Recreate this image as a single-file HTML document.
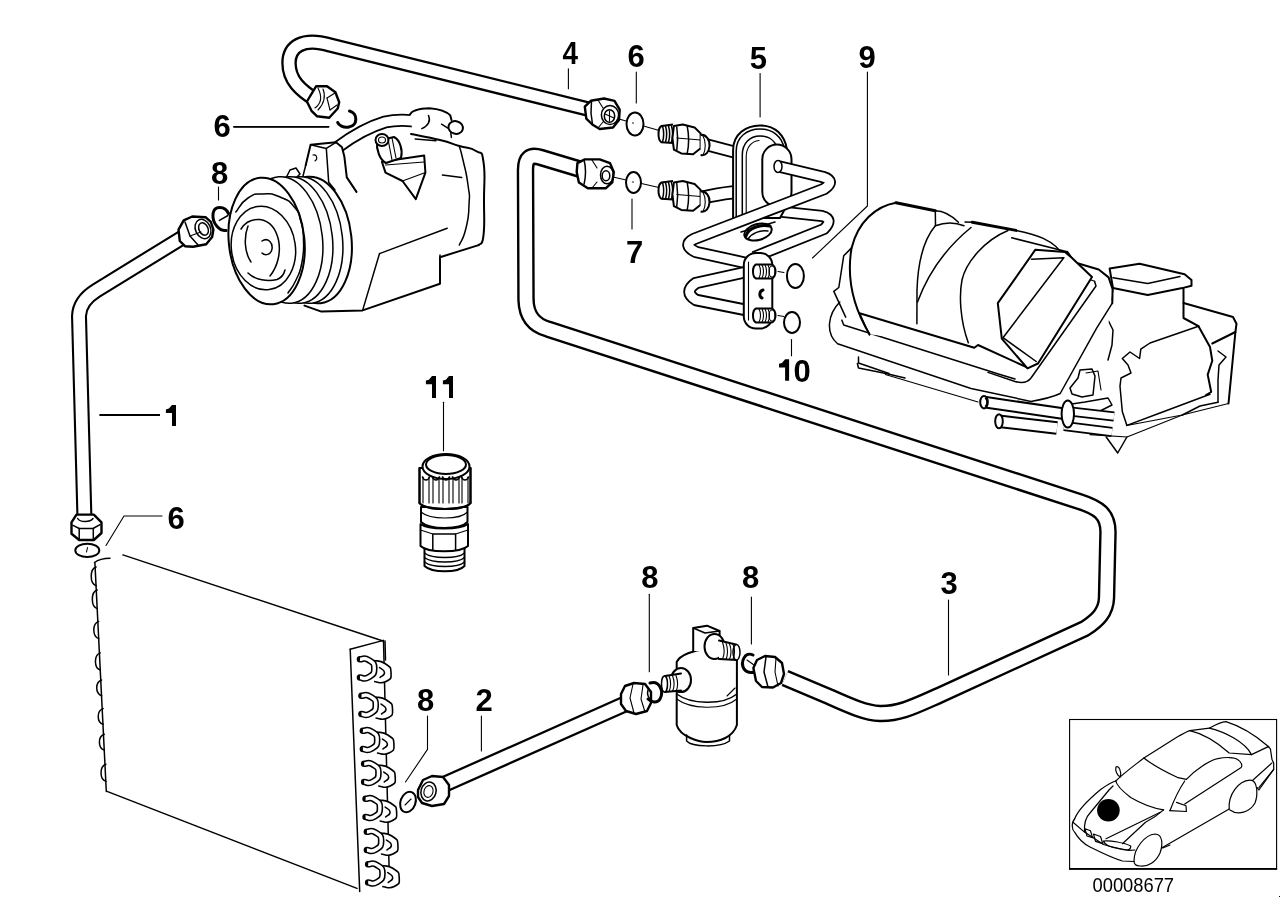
<!DOCTYPE html>
<html><head><meta charset="utf-8"><title>Parts diagram</title>
<style>
html,body{margin:0;padding:0;background:#fff;width:1288px;height:910px;overflow:hidden}
svg{display:block;will-change:transform}
.l{font-family:"Liberation Sans",sans-serif;font-weight:bold;font-size:31px;fill:#000}
.s{fill:none;stroke:#000;stroke-width:2;stroke-linejoin:round;stroke-linecap:round}
.m{fill:none;stroke:#000;stroke-width:1.5;stroke-linejoin:round;stroke-linecap:round}
.t{fill:none;stroke:#000;stroke-width:1.1;stroke-linejoin:round;stroke-linecap:round}
.k{fill:none;stroke:#000;stroke-width:3;stroke-linejoin:round;stroke-linecap:round}
.w{fill:#fff;stroke:#000;stroke-width:2;stroke-linejoin:round}
.wm{fill:#fff;stroke:#000;stroke-width:1.5;stroke-linejoin:round}
.wk{fill:#fff;stroke:#000;stroke-width:3;stroke-linejoin:round}
.wn{fill:#fff;stroke:#000;stroke-width:2.4;stroke-linejoin:round}
.f{fill:#fff;stroke:none}
</style></head>
<body>
<svg width="1288" height="910" viewBox="0 0 1288 910">
<path d="M596,174 L541,157.5 C530,154 525.5,158 525.5,170 L526,300 C526.5,317 535,325.5 548,329.1 L1080,501.7 C1098,507.5 1108,514 1108,532 L1106.5,598 C1106,612 1098,620 1085,628.5 L940,695 C915,706 900,714 880,713.5 C866,713 850,706 830,697 L785,678" fill="none" stroke="#000" stroke-width="17.5" stroke-linejoin="round"/>
<path d="M596,174 L541,157.5 C530,154 525.5,158 525.5,170 L526,300 C526.5,317 535,325.5 548,329.1 L1080,501.7 C1098,507.5 1108,514 1108,532 L1106.5,598 C1106,612 1098,620 1085,628.5 L940,695 C915,706 900,714 880,713.5 C866,713 850,706 830,697 L785,678" fill="none" stroke="#fff" stroke-width="12.7" stroke-linejoin="round"/>
<path d="M600,112 L330,45 C302,37 289,47 289,63 C289,80 300,90 316,100" fill="none" stroke="#000" stroke-width="15.5" stroke-linejoin="round"/>
<path d="M600,112 L330,45 C302,37 289,47 289,63 C289,80 300,90 316,100" fill="none" stroke="#fff" stroke-width="10.9" stroke-linejoin="round"/>
<path d="M198,228 L96,290.7 Q79.5,301 79,316 L84.5,520" fill="none" stroke="#000" stroke-width="16" stroke-linejoin="round"/>
<path d="M198,228 L96,290.7 Q79.5,301 79,316 L84.5,520" fill="none" stroke="#fff" stroke-width="11.8" stroke-linejoin="round"/>
<path d="M436,788 L634,700" fill="none" stroke="#000" stroke-width="17" stroke-linejoin="round"/>
<path d="M436,788 L634,700" fill="none" stroke="#fff" stroke-width="12.4" stroke-linejoin="round"/>
<path class="f" d="M95,562 L106.3,791.4 L357,888.4 L350.2,649.3 L383,641 L122.9,554.9 Z" />
<path class="m" d="M122.9,554.9 L383,641" />
<path class="m" d="M94.9,562.9 L106.3,791.4" />
<path class="m" d="M107,791.4 L357,888.4" />
<path class="m" d="M94.5,562.5 Q100,558.5 110,558.3" />
<path class="m" d="M350.2,649.3 L359.7,891.4" />
<path class="m" d="M350.2,649.3 L383.5,640.4" />
<path class="m" d="M383.5,640.4 L389.5,884" />
<path class="m" d="M96.1,567 C89.6,569 89.6,583.7 96.1,585.7" />
<path class="m" d="M97.2,590 C90.7,592 90.7,606.6 97.2,608.6" />
<path class="m" d="M98.7,621.4 C92.2,623.4 92.2,636.6 98.7,638.6" />
<path class="m" d="M100.3,652.9 C93.8,654.9 93.8,668 100.3,670" />
<path class="m" d="M101.6,680 C95.1,682 95.1,693.7 101.6,695.7" />
<path class="m" d="M103.1,708.6 C96.6,710.6 96.6,722.3 103.1,724.3" />
<path class="m" d="M104.3,734.3 C97.8,736.3 97.8,748 104.3,750" />
<path class="m" d="M105.9,764.3 C99.4,766.3 99.4,779.4 105.9,781.4" />
<path d="M374,660.5 C377.7,661.5 379.4,659.5 385,663.5 C390.7,667.5 390.7,666.5 391,672.5 C391.4,678.5 391.7,678.5 386,681.5 C380.4,684.5 378,681.5 374,681.5" fill="#fff" stroke="#000" stroke-width="1.6"/>
<path class="m" d="M379.5,667.5 C381.2,669.2 384.4,669.2 384.5,672.5 C384.7,675.8 381.5,675.8 380,677.5" />
<path d="M360,659.2 C362.9,659.4 363.8,656.8 368.5,659.9 C373.3,663 374.3,662.7 374.3,668.5 C374.3,674.3 373.3,674.3 368.5,677.3 C363.8,680.3 362.9,677.4 360,677.5" fill="none" stroke="#000" stroke-width="6.6" stroke-linecap="round"/>
<path d="M360,659.2 C362.9,659.4 363.8,656.8 368.5,659.9 C373.3,663 374.3,662.7 374.3,668.5 C374.3,674.3 373.3,674.3 368.5,677.3 C363.8,680.3 362.9,677.4 360,677.5" fill="none" stroke="#fff" stroke-width="3.4" stroke-linecap="butt"/>
<path d="M375.5,697 C379.2,698 380.8,696 386.5,700 C392.2,704 392.2,703 392.5,709 C392.8,715 393.2,715 387.5,718 C381.8,721 379.5,718 375.5,718" fill="#fff" stroke="#000" stroke-width="1.6"/>
<path class="m" d="M381,704 C382.7,705.7 385.8,705.7 386,709 C386.2,712.3 383,712.3 381.5,714" />
<path d="M361.5,695.7 C364.3,695.9 365.2,693.3 370,696.4 C374.8,699.5 375.8,699.2 375.8,705 C375.8,710.8 374.8,710.8 370,713.8 C365.2,716.8 364.3,713.9 361.5,714" fill="none" stroke="#000" stroke-width="6.6" stroke-linecap="round"/>
<path d="M361.5,695.7 C364.3,695.9 365.2,693.3 370,696.4 C374.8,699.5 375.8,699.2 375.8,705 C375.8,710.8 374.8,710.8 370,713.8 C365.2,716.8 364.3,713.9 361.5,714" fill="none" stroke="#fff" stroke-width="3.4" stroke-linecap="butt"/>
<path d="M376.9,732 C380.6,733 382.2,731 387.9,735 C393.6,739 393.6,738 393.9,744 C394.2,750 394.6,750 388.9,753 C383.2,756 380.9,753 376.9,753" fill="#fff" stroke="#000" stroke-width="1.6"/>
<path class="m" d="M382.4,739 C384.1,740.7 387.2,740.7 387.4,744 C387.6,747.3 384.4,747.3 382.9,749" />
<path d="M362.9,730.7 C365.7,730.9 366.6,728.3 371.4,731.4 C376.2,734.5 377.2,734.2 377.2,740 C377.2,745.8 376.2,745.8 371.4,748.8 C366.6,751.8 365.7,748.9 362.9,749" fill="none" stroke="#000" stroke-width="6.6" stroke-linecap="round"/>
<path d="M362.9,730.7 C365.7,730.9 366.6,728.3 371.4,731.4 C376.2,734.5 377.2,734.2 377.2,740 C377.2,745.8 376.2,745.8 371.4,748.8 C366.6,751.8 365.7,748.9 362.9,749" fill="none" stroke="#fff" stroke-width="3.4" stroke-linecap="butt"/>
<path d="M378.2,765 C381.9,766 383.6,764 389.2,768 C394.9,772 394.9,771 395.2,777 C395.6,783 395.9,783 390.2,786 C384.6,789 382.2,786 378.2,786" fill="#fff" stroke="#000" stroke-width="1.6"/>
<path class="m" d="M383.7,772 C385.4,773.7 388.6,773.7 388.7,777 C388.9,780.3 385.7,780.3 384.2,782" />
<path d="M364.2,763.7 C367.1,763.9 368,761.3 372.7,764.4 C377.5,767.5 378.5,767.2 378.5,773 C378.5,778.8 377.5,778.8 372.7,781.8 C368,784.8 367.1,781.9 364.2,782" fill="none" stroke="#000" stroke-width="6.6" stroke-linecap="round"/>
<path d="M364.2,763.7 C367.1,763.9 368,761.3 372.7,764.4 C377.5,767.5 378.5,767.2 378.5,773 C378.5,778.8 377.5,778.8 372.7,781.8 C368,784.8 367.1,781.9 364.2,782" fill="none" stroke="#fff" stroke-width="3.4" stroke-linecap="butt"/>
<path d="M379.6,800 C383.3,801 385,799 390.6,803 C396.3,807 396.3,806 396.6,812 C397,818 397.3,818 391.6,821 C386,824 383.6,821 379.6,821" fill="#fff" stroke="#000" stroke-width="1.6"/>
<path class="m" d="M385.1,807 C386.8,808.7 390,808.7 390.1,812 C390.3,815.3 387.1,815.3 385.6,817" />
<path d="M365.6,798.7 C368.5,798.9 369.4,796.3 374.1,799.4 C378.9,802.5 379.9,802.2 379.9,808 C379.9,813.8 378.9,813.8 374.1,816.8 C369.4,819.8 368.5,816.9 365.6,817" fill="none" stroke="#000" stroke-width="6.6" stroke-linecap="round"/>
<path d="M365.6,798.7 C368.5,798.9 369.4,796.3 374.1,799.4 C378.9,802.5 379.9,802.2 379.9,808 C379.9,813.8 378.9,813.8 374.1,816.8 C369.4,819.8 368.5,816.9 365.6,817" fill="none" stroke="#fff" stroke-width="3.4" stroke-linecap="butt"/>
<path d="M380.9,833 C384.6,834 386.3,832 391.9,836 C397.6,840 397.6,839 397.9,845 C398.3,851 398.6,851 392.9,854 C387.3,857 384.9,854 380.9,854" fill="#fff" stroke="#000" stroke-width="1.6"/>
<path class="m" d="M386.4,840 C388.1,841.7 391.3,841.7 391.4,845 C391.6,848.3 388.4,848.3 386.9,850" />
<path d="M366.9,831.7 C369.8,831.9 370.7,829.3 375.4,832.4 C380.2,835.5 381.2,835.2 381.2,841 C381.2,846.8 380.2,846.8 375.4,849.8 C370.7,852.8 369.8,849.9 366.9,850" fill="none" stroke="#000" stroke-width="6.6" stroke-linecap="round"/>
<path d="M366.9,831.7 C369.8,831.9 370.7,829.3 375.4,832.4 C380.2,835.5 381.2,835.2 381.2,841 C381.2,846.8 380.2,846.8 375.4,849.8 C370.7,852.8 369.8,849.9 366.9,850" fill="none" stroke="#fff" stroke-width="3.4" stroke-linecap="butt"/>
<path d="M382.2,865.5 C385.9,866.5 387.6,864.5 393.2,868.5 C398.9,872.5 398.9,871.5 399.2,877.5 C399.6,883.5 399.9,883.5 394.2,886.5 C388.6,889.5 386.2,886.5 382.2,886.5" fill="#fff" stroke="#000" stroke-width="1.6"/>
<path class="m" d="M387.7,872.5 C389.4,874.2 392.6,874.2 392.7,877.5 C392.9,880.8 389.7,880.8 388.2,882.5" />
<path d="M368.2,864.2 C371.1,864.4 372,861.8 376.7,864.9 C381.5,868 382.5,867.7 382.5,873.5 C382.5,879.3 381.5,879.3 376.7,882.3 C372,885.3 371.1,882.4 368.2,882.5" fill="none" stroke="#000" stroke-width="6.6" stroke-linecap="round"/>
<path d="M368.2,864.2 C371.1,864.4 372,861.8 376.7,864.9 C381.5,868 382.5,867.7 382.5,873.5 C382.5,879.3 381.5,879.3 376.7,882.3 C372,885.3 371.1,882.4 368.2,882.5" fill="none" stroke="#fff" stroke-width="3.4" stroke-linecap="butt"/>
<path class="m" d="M385,641 L385.5,660" />
<ellipse class="s" cx="87.3" cy="550.4" rx="12" ry="6.6" />
<path class="t" d="M87.5,547.5 L86.5,552" />
<ellipse class="s" cx="408" cy="802" rx="7.5" ry="10.5" transform="rotate(20 408 802)" />
<path class="t" d="M405,805 L411,799" />
<path class="k" d="M228.5,213.5 C225,206 214,205 213,214 C212,224 220,231 226,230.5" />
<path class="m" d="M219.4,220.4 L228,215.5" />
<path class="k" d="M349.5,111 C358,113 358,126 349,127 C343,128 338.5,125 337.7,122.5" />
<path class="wn" d="M178.5,229.7 L183.7,220.4 L192.3,216.5 L205.5,217.2 L210.8,221.8 L213.4,229.7 L212.1,237 L206.2,244.2 L193,246.8 L185,246.2 L179.8,241 Z" />
<ellipse class="m" cx="203" cy="229" rx="7.5" ry="10" transform="rotate(-25 203 229)" />
<ellipse class="m" cx="203.5" cy="229" rx="4.5" ry="6.5" transform="rotate(-25 203.5 229)" />
<path class="m" d="M185,222 L190,236 198,245" />
<path class="t" d="M190,236 L201,232" />
<path class="wn" d="M76.5,514.6 L71.5,522.3 L71.5,533.8 L79.2,540 L93.8,540 L101.5,533 L101.5,522.3 L93.8,514.6 Z" />
<path class="m" d="M77.7,518.5 C80,522.5 90,522.5 93,518.5" />
<path class="m" d="M73,525.4 L79.2,528.5 L93,528.5 L100,524.6" />
<path class="m" d="M79.2,528.5 L79.2,539 M93.3,528.5 L93.3,539" />
<path class="wn" d="M306.9,101.5 L311.5,110.8 L316.9,116.2 L329.2,117.7 L337.7,108.5 L339.2,102.3 L335.4,92.3 L327,86.2 L316.2,86.2 Z" />
<path class="t" d="M318,88 C322,96 322,103 315,108" />
<path class="t" d="M323,89 C326,96 324,104 318,110" />
<path class="t" d="M327,98 L335,93" />
<path class="t" d="M327,98 L330,110" />
<path class="t" d="M330,110 L337,105" />
<path class="wn" d="M584.8,106.7 L590.8,100.8 L604.1,98.5 L614.5,100.8 L619.7,109.7 L619,120 L613,127.5 L599.7,129 L592.3,124.5 L586.3,118.6 Z" />
<ellipse class="m" cx="610" cy="115" rx="8.6" ry="9.4" />
<ellipse class="m" cx="609.5" cy="116" rx="5.2" ry="6.3" />
<path class="m" d="M591.5,101 L591,113 592.5,124.5" />
<path class="t" d="M598,100 L603,108" />
<path class="t" d="M598,128 L603,122" />
<path class="t" d="M609.5,111 L609.5,121" />
<path class="t" d="M605,114 L614,118" />
<path class="wn" d="M577.4,163.1 L584.8,159.4 L599.7,159.4 L610,163.1 L613.8,172 L612.3,182.4 L605.6,188.3 L587.8,188.3 L578.9,182.4 L576.7,172 Z" />
<ellipse class="m" cx="607" cy="175" rx="6.5" ry="8.8" />
<ellipse class="m" cx="606" cy="175.7" rx="3.8" ry="5" />
<path class="m" d="M584.1,160 C586,168 586,176 584.1,184" />
<path class="t" d="M592,160 L597,168" />
<path class="t" d="M592,188 L597,182" />
<path class="wn" d="M418,790 L423,780 L432,776 L443,777 L449,785 L449,796 L444,804 L432,806 L422,803 L418,797 Z" />
<ellipse class="m" cx="428.5" cy="791.5" rx="7.5" ry="9.5" transform="rotate(15 428.5 791.5)" />
<ellipse class="t" cx="428.5" cy="791.5" rx="4.5" ry="6" transform="rotate(15 428.5 791.5)" />
<path class="wn" d="M621,694 L625,686 L634,683 L645,684 L651,692 L651,703 L647,711 L636,714 L626,711 L621,704 Z" />
<path class="t" d="M633,684 L630,698 634,713" />
<path class="t" d="M643,685 L641,699 645,712" />
<path class="k" d="M650,683 C660,680 664,692 660,699 C657,704 651,702 648,699" />
<path class="m" d="M648,690 C647,694 648,697 650,699" />
<path class="k" d="M753,655 C745,651 740,662 744,669 C747,673 751,673 755,672" />
<path class="t" d="M747,660 L754,665" />
<path class="wn" d="M753.4,668 L757,660 L765,656 L775,657 L782,663 L784,674 L781,683 L773,687.5 L762,687 L756,681 Z" />
<path class="m" d="M766,657 L764,672 768,687" />
<path class="t" d="M776,658 L775,672 778,686" />
<path class="w" d="M676.7,662 L676.7,725 C680,737 700,742 706.5,742 C720,742 733,737 736.9,725 L736.9,659 C730,652 716,649 706,649 C694,650 680,655 676.7,662 Z" />
<path class="m" d="M686.6,735 L686.6,741 C692,747 720,748 729.5,741 L729.5,735" />
<path class="m" d="M676.7,694 C690,704 722,706 736.9,694" />
<path class="t" d="M676.7,699 C690,709 722,711 736.9,699" />
<path class="t" d="M735,688 L727,696" />
<path class="w" d="M693.2,651 L693.2,628 L707,625.7 L719.6,631 L719.6,651" />
<path class="m" d="M693.2,628 L705,633 719.6,631" />
<ellipse class="w" cx="714.5" cy="646.5" rx="10" ry="12.5" />
<path class="f" d="M719,640.5 L736,644.5 L736.5,660 L719,659 Z" />
<path class="s" d="M719,640.5 L736,644.5 M719,659 L736.5,660" />
<ellipse class="wm" cx="736.5" cy="652.3" rx="3.5" ry="7.8" />
<path class="t" d="M722.5,642.305 C724.5,648 724.5,655 722.5,659.2" />
<path class="t" d="M726,643.11 C728,648 728,655 726,659.2" />
<path class="t" d="M729.5,643.915 C731.5,648 731.5,655 729.5,659.2" />
<path class="t" d="M733,644.72 C735,648 735,655 733,659.2" />
<ellipse class="w" cx="681" cy="680" rx="10" ry="12" />
<path class="f" d="M681,673.5 L665,676 L665,692 L681,690.5 Z" />
<path class="s" d="M681,673.5 L665,676 M665,692 L681,690.5" />
<ellipse class="wm" cx="664.5" cy="684" rx="3" ry="8" />
<path class="t" d="M669,675.5 C671,681 671,687 669,691.5" />
<path class="t" d="M672.5,675.5 C674.5,681 674.5,687 672.5,691.5" />
<path class="t" d="M676,675.5 C678,681 678,687 676,691.5" />
<path class="w" d="M424.5,548 L424.5,566 C432,573 458,573 464.5,566 L464.5,548 Z" />
<path class="m" d="M424.5,553 C432,559 458,559 464.5,553" />
<path class="m" d="M424.5,557.5 C432,563.5 458,563.5 464.5,557.5" />
<path class="m" d="M424.5,562 C432,568 458,568 464.5,562" />
<path class="w" d="M420.5,524 L420.5,546 C428,553 460,553 468,546 L468,524 C460,530 428,530 420.5,524 Z" />
<path class="m" d="M432.8,534 L432.8,550 M455.6,534 L455.6,550 M432.8,534 L455.6,534" />
<path class="t" d="M420.5,530 L432.8,534 M468,530 L455.6,534" />
<path class="w" d="M421,507 L421,522 C430,530 460,530 467.5,522 L467.5,507 Z" />
<path class="t" d="M421,512 C430,520 460,520 467.5,512" />
<path class="w" d="M419.5,468 L419.5,503 C425,511 465,511 470.5,503 L470.5,468 Z" />
<ellipse class="w" cx="446" cy="466.5" rx="23.5" ry="12.5" />
<ellipse class="s" cx="446" cy="464.5" rx="20" ry="9.5" />
<path class="t" d="M423,477 L423,503 M429,477 L429,503" />
<path class="m" d="M422.5,477 C424,481 428,481 429.5,477" />
<path class="t" d="M433,477 L433,503 M439,477 L439,503" />
<path class="m" d="M432.5,477 C434,481 438,481 439.5,477" />
<path class="t" d="M443,477 L443,503 M449,477 L449,503" />
<path class="m" d="M442.5,477 C444,481 448,481 449.5,477" />
<path class="t" d="M453,477 L453,503 M459,477 L459,503" />
<path class="m" d="M452.5,477 C454,481 458,481 459.5,477" />
<path class="t" d="M462,477 L462,503 M468,477 L468,503" />
<path class="m" d="M461.5,477 C463,481 467,481 468.5,477" />
<path class="s" d="M419.5,503 C425,511 465,511 470.5,503" />
<path class="s" d="M419.5,468 L419.5,503 M470.5,468 L470.5,503" />
<path class="f" d="M305.7,165.3 L310.6,144.7 L336,142.3 L342,147.2 L375,128 L411,114 L450,118 L465,128 L459.3,146 L478.6,152 L483.5,160.5 L483.5,235.4 L478.6,245.1 L440,257.2 L440,283.8 L362.6,310.4 L321.4,311.6 L304.5,305.6 L280,250 Z" />
<path class="s" d="M411,134 C418.7,135.6 427.1,136.8 440,140 C452.9,143.2 449.7,143.1 459.3,146 C468.9,148.9 469.5,146.7 476,151 C482.5,155.3 481.4,148.9 483.5,162 C485.6,175.1 484,180.4 484,200 C484,219.6 484.9,223.4 483.5,235.4 C482.1,247.4 479.9,242.5 478.6,245.1" />
<path class="s" d="M478.6,245.1 L440,257.2 440,283.8 362.6,310.4 321.4,311.6 304.5,305.6" />
<path class="m" d="M459.3,146 C460.5,150.7 460.1,147 463,160 C465.9,173 466,170 468,185 C470,200 469.7,190.7 469,205 C468.3,219.3 469.2,214.6 466,228 C462.8,241.4 461.5,239.4 459.3,245.1" />
<path class="m" d="M442.4,175 L461.7,177.4" />
<path class="m" d="M379.5,253.6 L447.2,228.2" />
<path class="m" d="M379.5,253.6 L362.6,310.4" />
<path class="m" d="M440,257.2 L440,255" />
<path d="M338,147 C350,138 365,128 385,122 C398,119 410,120 422,122" fill="none" stroke="#000" stroke-width="13" stroke-linejoin="round"/>
<path d="M338,147 C350,138 365,128 385,122 C398,119 410,120 422,122" fill="none" stroke="#fff" stroke-width="9.4" stroke-linejoin="round"/>
<path class="f" d="M410,114.5 C412,110 418,108.5 429.5,108.2 C440,109 447,112 450.3,115.4 L452,121 L450,126 L451.4,137.4 L440,136 L425,131 L412,128 Z" />
<path class="s" d="M410,114.5 C412,110 418,108.5 429.5,108.2 C440,109 447,112 450.3,115.4 L451.5,120" />
<path class="m" d="M441.5,124.2 L450.3,129.7 L451.4,137.4" />
<path class="m" d="M421.8,128.6 C428,126 431,121 428.5,115.5" />
<path class="m" d="M415.2,139 L436,140.7" />
<ellipse class="w" cx="455.7" cy="127.5" rx="7.3" ry="6.3" transform="rotate(15 455.7 127.5)" />
<path class="w" d="M381.9,161.7 L424.2,155.6 L425.4,172.6 L415.8,199.2 L402.5,181 L385.5,172.6 Z" />
<path class="t" d="M385.5,165 L424,162" />
<path class="t" d="M402.5,181 L425.4,172.6" />
<path class="w" d="M377,141 L394,137 C400,140 403,150 401,158 L386,163 C380,160 376,150 377,141 Z" />
<ellipse class="w" cx="382" cy="140" rx="6.5" ry="6" />
<ellipse class="t" cx="382" cy="140" rx="3.5" ry="3" />
<path class="t" d="M388,139 L392,160" />
<path class="t" d="M392,138 L396,158" />
<path class="f" d="M305.7,165.3 L310.6,144.7 L336,142.3 L342,147.2 L344.4,156.8 L346.8,177.4 L356.5,191.9 L330,235 L300,230 Z" />
<path class="s" d="M305.7,165.3 L310.6,144.7 336,142.3 342,147.2 344.4,156.8 346.8,177.4 356.5,191.9" />
<path class="m" d="M310.6,144.7 L326.3,148.4 336,142.3" />
<path class="m" d="M326.3,148.4 L328.7,182.2 335,190" />
<path class="t" d="M313,155 C317,154 318,159 315,161" />
<path class="m" d="M305.7,165.3 L302,180" />
<path class="wm" d="M300,174 L296,168 L290,170 L286,178 L292,182 Z" />
<ellipse class="w" cx="314" cy="240" rx="37.5" ry="63.5" transform="rotate(-6 314 240)" />
<ellipse class="wm" cx="305" cy="240" rx="37.5" ry="63.5" transform="rotate(-6 305 240)" />
<ellipse class="wm" cx="295" cy="240" rx="37.5" ry="63.5" transform="rotate(-6 295 240)" />
<ellipse class="wm" cx="285" cy="240" rx="37.5" ry="63.5" transform="rotate(-6 285 240)" />
<ellipse class="w" cx="266.6" cy="241" rx="37.8" ry="63.5" transform="rotate(-6 266.6 241)" />
<path class="m" d="M235.8,212 C239.5,207.8 239.7,203.4 248,198 C256.3,192.6 253.9,194.2 263.5,193.9 C273.1,193.6 270.8,193.1 280,197 C289.2,200.9 288,199.5 294.3,207 C300.6,214.5 298.2,212.1 301,222 C303.8,231.9 303.2,228 303.5,240 C303.8,252 304.2,250 302,262 C299.8,274 300.2,270.7 296,280 C291.8,289.3 290.4,289.1 288,293" />
<ellipse class="m" cx="263.4" cy="248" rx="32" ry="42" transform="rotate(-8 263.4 248)" />
<path class="m" d="M241,229 C246,221 253,219 260,219.5 C270,221 276,229 278.5,240 C281,252 278,266 270,276" />
<path class="m" d="M248,226 C244,236 244,252 251,262" />
<path class="m" d="M248,273 C255,280 268,282 277,279.5 C281,278 284,274 285,270" />
<path class="m" d="M262,241 C268,237 273,243 272,249 C271,255 265,256 262,253" />
<path class="t" d="M619,119 L661,131" />
<path class="t" d="M613,177 L661,188" />
<ellipse class="w" cx="635" cy="124" rx="8.5" ry="11.5" />
<circle cx="633" cy="123" r="0.8" fill="#000"/>
<ellipse class="w" cx="633.5" cy="182.5" rx="7.5" ry="10.5" />
<circle cx="633" cy="182" r="0.8" fill="#000"/>
<path d="M700,143 L738,153" fill="none" stroke="#000" stroke-width="13" stroke-linejoin="round"/>
<path d="M700,143 L738,153" fill="none" stroke="#fff" stroke-width="9.4" stroke-linejoin="round"/>
<path d="M700,198 C712,196 720,193 738,192" fill="none" stroke="#000" stroke-width="14" stroke-linejoin="round"/>
<path d="M700,198 C712,196 720,193 738,192" fill="none" stroke="#fff" stroke-width="10.4" stroke-linejoin="round"/>
<path class="w" d="M673,124.5 L661.5,126 C657.5,128 657.5,140 661.5,142.3 L673,143" />
<path class="m" d="M662.5,126 C664.0,131 664.0,137 662.5,142.3" />
<path class="m" d="M665.5,126 C667.0,131 667.0,137 665.5,142.3" />
<path class="m" d="M668.5,126 C670.0,131 670.0,137 668.5,142.3" />
<path class="m" d="M671.5,126 C673.0,131 673.0,137 671.5,142.3" />
<path class="w" d="M673.9,126 L682.8,124.5 L694.6,127.5 L700.6,133.4 L700.6,148.2 L693.1,154.2 L681.3,153.4 L673.9,149.7 L672.4,138 Z" />
<path class="m" d="M676.8,127 C678,135 678,142 676.8,150 M687.2,126 C689,135 689,145 687.2,153.5" />
<path class="t" d="M676.8,138 L700.6,140" />
<path class="w" d="M700.6,135 C706,134 710,140 709.5,146 C709,152 706,156 700.6,155" />
<path class="t" d="M703,136 C706,141 706,150 703,155" />
<path class="w" d="M673,181.0 L661.5,182.5 C657.5,184.5 657.5,196.5 661.5,198.8 L673,199.5" />
<path class="m" d="M662.5,182.5 C664.0,187.5 664.0,193.5 662.5,198.8" />
<path class="m" d="M665.5,182.5 C667.0,187.5 667.0,193.5 665.5,198.8" />
<path class="m" d="M668.5,182.5 C670.0,187.5 670.0,193.5 668.5,198.8" />
<path class="m" d="M671.5,182.5 C673.0,187.5 673.0,193.5 671.5,198.8" />
<path class="w" d="M673.9,182.5 L682.8,181.0 L694.6,184.0 L700.6,189.9 L700.6,204.7 L693.1,210.7 L681.3,209.9 L673.9,206.2 L672.4,194.5 Z" />
<path class="m" d="M676.8,183.5 C678,191.5 678,198.5 676.8,206.5 M687.2,182.5 C689,191.5 689,201.5 687.2,210.0" />
<path class="t" d="M676.8,194.5 L700.6,196.5" />
<path class="w" d="M700.6,191.5 C706,190.5 710,196.5 709.5,202.5 C709,208.5 706,212.5 700.6,211.5" />
<path class="t" d="M703,192.5 C706,197.5 706,206.5 703,211.5" />
<path d="M775,211 L822,216 Q834,219 824,229 L754,257" fill="none" stroke="#000" stroke-width="12" stroke-linejoin="round"/>
<path d="M775,211 L822,216 Q834,219 824,229 L754,257" fill="none" stroke="#fff" stroke-width="8.4" stroke-linejoin="round"/>
<path class="w" d="M733.1,218 L733.1,150 C733.1,134 746,125.4 760,125.4 C775,125.4 785,135 787,150 L787,205 L780,218 Z" />
<path class="m" d="M736.2,217 L736.2,151 C736.2,137 747,129 760,129 C773,129 782,137 784,148" />
<path class="m" d="M742.3,217 L742.3,155 C742.3,143 750,136 760,136 C770,136 776,142 778,150" />
<path class="t" d="M746.2,217 L746.2,157 C746.2,147 752,141 759,140.5" />
<rect class="w" x="762.3" y="144.6" width="29.2" height="62" rx="14.6" ry="14.6"/>
<path d="M777,166 L823,177 Q836,181 824,189 L694,239 Q682,245 696,252 L746,263" fill="none" stroke="#000" stroke-width="12.5" stroke-linejoin="round"/>
<path d="M777,166 L823,177 Q836,181 824,189 L694,239 Q682,245 696,252 L746,263" fill="none" stroke="#fff" stroke-width="8.9" stroke-linejoin="round"/>
<ellipse class="wm" cx="778" cy="166.5" rx="4" ry="6" />
<ellipse class="w" cx="758" cy="232" rx="14" ry="8" transform="rotate(-15 758 232)" />
<path class="k" d="M746,236 C748,228 760,224 770,226" />
<path class="m" d="M748,239 C752,233 760,230 768,231" />
<path class="m" d="M741,232 L775,222" />
<path d="M746,272 L696,283 Q683,292 696,300 L746,310" fill="none" stroke="#000" stroke-width="12.5" stroke-linejoin="round"/>
<path d="M746,272 L696,283 Q683,292 696,300 L746,310" fill="none" stroke="#fff" stroke-width="8.9" stroke-linejoin="round"/>
<rect class="w" x="743.8" y="253" width="28.5" height="75.5" rx="12" ry="12"/>
<path class="t" d="M748.5,262 L748.5,320" />
<path class="w" d="M756,264.5 L771,264.5 C777,264.5 777,278.5 771,278.5 L756,278.5 C752,276.5 752,266.5 756,264.5 Z" />
<path class="t" d="M759,265.0 C761,268.5 761,274.5 759,278.0" />
<path class="t" d="M762,265.0 C764,268.5 764,274.5 762,278.0" />
<path class="t" d="M765,265.0 C767,268.5 767,274.5 765,278.0" />
<path class="t" d="M768,265.0 C770,268.5 770,274.5 768,278.0" />
<ellipse class="t" cx="772" cy="271.5" rx="3" ry="5.5" />
<path class="t" d="M778,271.5 L784,272.5" />
<path class="w" d="M756,308.5 L771,308.5 C777,308.5 777,322.5 771,322.5 L756,322.5 C752,320.5 752,310.5 756,308.5 Z" />
<path class="t" d="M759,309.0 C761,312.5 761,318.5 759,322.0" />
<path class="t" d="M762,309.0 C764,312.5 764,318.5 762,322.0" />
<path class="t" d="M765,309.0 C767,312.5 767,318.5 765,322.0" />
<path class="t" d="M768,309.0 C770,312.5 770,318.5 768,322.0" />
<ellipse class="t" cx="772" cy="315.5" rx="3" ry="5.5" />
<path class="t" d="M778,315.5 L784,316.5" />
<path class="k" d="M763,290 C759,291 759,297 762,298" />
<ellipse class="s" cx="795.4" cy="276" rx="8.5" ry="12" />
<ellipse class="s" cx="792" cy="322.5" rx="8" ry="10.5" />
<path class="f" d="M1090,434.6 L1106,437 L1117.7,453 L1127,437 L1182.3,415 L1228.5,403.5 L1235.4,332 L1236.5,323.8 L1233,317 L1183.5,303 L1183.5,289 L1191.5,285.8 L1191.5,280 L1184.6,274.2 L1139.6,263.8 L1109.6,268.5 L1100,300 L1090,330 Z" />
<path class="w" d="M1109.6,268.5 L1139.6,263.8 L1184.6,274.2 L1191.5,280 L1191.5,285.8 L1182.3,288.1 L1147.7,295 L1113,288.1 Z" />
<path class="m" d="M1113,277.7 L1147.7,283.5 1180,276.5" />
<path class="m" d="M1113,288.1 L1111,300" />
<path class="s" d="M1183.5,289 L1183.5,318 1198.5,326.2" />
<path class="s" d="M1183.5,303 L1233,317 1236.5,323.8 1235.4,332 1212.3,343.5" />
<path class="s" d="M1235.4,332 L1228.5,403.5" />
<path class="s" d="M1198.5,326.2 L1210,347 1212.3,360.8 1207.7,374.6 1211.2,392 1206,395" />
<path class="m" d="M1198.5,326.2 L1150,343 1140.8,349.2 1139.6,358.5 1130,352 1122.3,358.5 1128,365 1131,373 1121,378 1120,386.2 1122.3,411.5 1126.9,425.4" />
<path class="m" d="M1126.9,425.4 L1160,413 1210,394.2" />
<path class="m" d="M1218,351 L1226,357 1219,365 1218,380 1218,402.3" />
<path class="t" d="M1126.9,425.4 L1140,423 1182.3,415 1228.5,403.5" />
<path class="m" d="M1182.3,415 L1200,406 1218,402.3" />
<path class="m" d="M1106.2,437 L1117.7,453 1126.9,437" />
<path class="t" d="M1090,434.6 L1127,437 1182.3,415" />
<path class="f" d="M1060,393 L1095,385 L1110,365 L1113,330 L1108,320 L1094,318 L1070,340 Z" />
<path class="m" d="M1094,318 L1108,320 1113,330 1112,345 1108,360" />
<path class="wm" d="M1078,378 L1080,370 L1092,369 L1095,376 L1093,395 L1082,397 L1072,394 L1070,388 Z" />
<path class="t" d="M1086,373 L1098,371 1101,390" />
<path class="m" d="M1065,405 L1085,402 1108,398 1112,405 1100,411 1068,414" />
<path class="f" d="M839.8,302 C827,315 825,333 837.6,343.7 L971,388.5 L1031,401.4 C1045,399 1055,396 1060.2,393.5 L1107.6,330 L1113,288 L1102.4,272.2 L1073.4,259 L900,215 L860,230 Z" />
<path class="m" d="M839.8,302 C828,314 825,333 837.6,343.7 L971,388.5 L1031,401.4 C1045,399 1055,396 1060.2,393.5 L1096.5,328.3 L1112.3,303.2" />
<path class="m" d="M841.8,320.1 L843.7,325 L1000,374.5 L1015,379" />
<path class="f" d="M851.6,247.9 C870,212 880,205 896,202.7 L935.3,210.8 L958.4,222.3 L1016,230.4 L1064,256.9 L1080,270 L1050,370 L1027.6,367.6 L976.9,349.2 L869.6,334.2 C855,310 848,280 851.6,247.9 Z" />
<path class="s" d="M869.6,334.2 C855,310 846,280 851.6,247.9 C858,222 876,206 896,202.7" />
<path class="k" d="M896,202.7 L935.3,210.8" />
<path class="m" d="M935.3,210.8 L935.5,225" />
<path class="m" d="M935.5,210.8 C945,211 952,216 958.4,222.3" />
<path class="m" d="M935.3,225.8 C925,238 918,260 917,290 L916.9,323.8" />
<path class="m" d="M971,227.5 C952,243 930,268 917.5,302" />
<path class="m" d="M935.3,225.8 C945,222 955,222 964,225.8" />
<path class="k" d="M972.3,222.3 L1016,230.4" />
<path class="m" d="M968.3,342.8 C960,320 959,295 962,280 C966,262 985,240 1008,230.5" />
<path class="m" d="M965,222 L972.3,222.3" />
<path class="m" d="M1016,230.4 C1035,234 1055,240 1064,256.9" />
<path class="s" d="M859.6,313.2 L974.3,347.8 978,345 1027.6,367.6" />
<path class="m" d="M851.6,247.9 L843.7,255.8 838.8,287.5 833.8,291.4 845.7,317.1" />
<path class="m" d="M859.6,313.2 L869.4,335" />
<path class="m" d="M858.5,357 L858.5,363 889,373.5" />
<path class="m" d="M857.4,363.5 L858.5,368 886,373.4 905,378" />
<path class="t" d="M885.3,374.5 L978,402" />
<path class="s" d="M1067.1,251.7 L1075,262.5 L1098.7,269.5 L1108.6,277.4 L1112.6,289.3 L1112.3,303.2" />
<path class="t" d="M1075,262.5 C1080,275 1085,278 1094.8,281.3" />
<path class="w" d="M1035.4,249.7 L1065,252 L1072,258 L1092,277 L1038,363.5 L1027.5,368.4 L1001.8,338.7 L997.8,303.1 Z" />
<path class="m" d="M1031.5,259.2 L1063.8,257.7 M1063.8,257.7 L1003,337.7 L1036.2,361.5" />
<path class="m" d="M1094.6,281.5 L1096,286 L1031,378 C1028,382 1022,383.5 1015,381.5 L988,372.4" />
<path class="m" d="M1011.7,237.8 L1067.1,251.7" />
<path d="M1066,411 L1114,416.5" fill="none" stroke="#000" stroke-width="10" stroke-linejoin="round"/>
<path d="M1066,411 L1114,416.5" fill="none" stroke="#fff" stroke-width="6.4" stroke-linejoin="round"/>
<path d="M1064,426 L1112,432" fill="none" stroke="#000" stroke-width="10" stroke-linejoin="round"/>
<path d="M1064,426 L1112,432" fill="none" stroke="#fff" stroke-width="6.4" stroke-linejoin="round"/>
<path d="M984,402 L1066,414" fill="none" stroke="#000" stroke-width="12.5" stroke-linejoin="round"/>
<path d="M984,402 L1066,414" fill="none" stroke="#fff" stroke-width="8.5" stroke-linejoin="round"/>
<ellipse class="w" cx="984" cy="402.2" rx="3.8" ry="6.2" />
<path class="m" d="M985.5,398.5 C987.5,400 987.5,404.5 985.5,406" />
<path d="M999,421.3 L1057,428" fill="none" stroke="#000" stroke-width="13.5" stroke-linejoin="round"/>
<path d="M999,421.3 L1057,428" fill="none" stroke="#fff" stroke-width="9.5" stroke-linejoin="round"/>
<ellipse class="w" cx="999" cy="421.3" rx="3.8" ry="7" />
<ellipse class="w" cx="1067.8" cy="414" rx="6.2" ry="13.5" />
<g class="t" stroke-linecap="butt">
<path d="M233.5,126.8H329"/>
<path d="M218.5,187V200"/>
<path d="M568.4,68.7V88.8"/>
<path d="M636.3,72.1V102.9"/>
<path d="M760.1,73.5V117"/>
<path d="M867.4,72V206L812.5,258"/>
<path d="M632,199V229"/>
<path d="M791.5,339.6V355.7"/>
<path d="M443.5,402.3V450.8"/>
<path d="M162,516H124L106,545.5"/>
<path d="M427.5,716V749.4L405.5,782"/>
<path d="M481.4,716V751"/>
<path d="M649.3,594.2V671.8"/>
<path d="M751.4,597V643.9"/>
<path d="M948.5,600V675"/>
</g>
<path d="M99.4,415H160" stroke="#000" stroke-width="1.8"/>
<path d="M233.5,126.8H329" stroke="#000" stroke-width="1.8"/>
<g class="l">
<text x="213.5" y="137.3">6</text>
<text x="210.9" y="183.5">8</text>
<text x="627.4" y="67.4">6</text>
<text x="749.7" y="69.4">5</text>
<text x="858.4" y="67.5">9</text>
<text x="625.9" y="262.9">7</text>
<text x="793.4" y="381.5">0</text>
<text x="167.6" y="529.4">6</text>
<text x="416.9" y="711.4">8</text>
<text x="475.6" y="711.4">2</text>
<text x="641.3" y="587.5">8</text>
<text x="741.9" y="587.5">8</text>
<text x="940.5" y="594.4">3</text>
<text x="0" y="0" transform="translate(562.6,64.4) scale(0.9,1)">4</text>
</g>
<path d="M172,404.9 L176,404.9 L176,425.9 L172,425.9 L172,412.9 L165.9,412.9 L165.9,409.4 L168.9,408.5 Z" fill="#000"/>
<path d="M432,375.9 L436,375.9 L436,397.9 L432,397.9 L432,384.3 L425.9,384.3 L425.9,380.6 L428.9,379.7 Z" fill="#000"/>
<path d="M449,375.9 L453,375.9 L453,397.9 L449,397.9 L449,384.3 L442.9,384.3 L442.9,380.6 L445.9,379.7 Z" fill="#000"/>
<path d="M785.1,359.2 L789.1,359.2 L789.1,380.8 L785.1,380.8 L785.1,367.4 L779,367.4 L779,363.8 L782,362.9 Z" fill="#000"/>
<rect x="1069.6" y="719.5" width="207" height="149.5" fill="#fff" stroke="#000" stroke-width="1.1"/>
<path d="M1069,868.9H1277.1" stroke="#000" stroke-width="1.9"/>
<path class="t" style="stroke-width:1.2" d="M1115.8,781 C1125,772 1135,765 1143.9,758 L1178,736.5 C1185,733 1188,731 1189.7,730.7 L1209.4,728.2 C1215,725 1220,722 1226,721.6 C1240,726 1255,735 1267.1,745.5 L1270.4,748.8 L1272,759.6 L1273.7,762.9 L1273.7,769.4 L1258.9,787.6"/>
<path class="t" style="stroke-width:1.2" d="M1189.7,730.7 C1205,734 1220,745 1229.2,753 L1251.5,754.6 L1268.8,746.4"/>
<path class="t" style="stroke-width:1.2" d="M1209.4,728.2 C1225,732 1245,742 1251.5,754.6"/>
<path class="t" style="stroke-width:1.2" d="M1143.9,758 C1155,767 1168,773 1178,777.7 L1186.4,779.3"/>
<path class="t" style="stroke-width:1.2" d="M1186.4,779.3 C1195,770 1210,760 1217.7,758.7 C1225,757 1235,757 1237.5,759.6 C1243,763 1242,767 1240.8,767.8 L1184.7,804"/>
<path class="t" style="stroke-width:1.2" d="M1169.9,810.7 C1174,800 1180,788 1184.7,781"/>
<path class="t" style="stroke-width:1.2" d="M1169.9,810.7 L1186.4,811.5 L1186,805.7 L1176.5,802.4"/>
<path class="t" style="stroke-width:1.2" d="M1162,847.8 L1229.2,809"/>
<path class="t" style="stroke-width:1.2" d="M1229.2,809 C1228,795 1238,781 1250,780.2 C1258,780 1258,795 1255,803 C1250,812 1238,816 1230,810"/>
<path class="t" style="stroke-width:1.2" d="M1257.2,787.6 L1258.9,790 L1273.7,769.4"/>
<path class="t" style="stroke-width:1.2" d="M1253,780 L1272,762.9"/>
<path class="t" style="stroke-width:1.2" d="M1074.6,819 C1071,823 1072,830 1074.6,832.1 C1078,838 1082,843 1090,847 C1100,852 1112,858 1122.4,861 L1134,861.5"/>
<path class="t" style="stroke-width:1.2" d="M1073,822.2 L1084.5,832.1 L1103.5,844.5 C1112,847 1120,849 1129,850.3 L1135,850"/>
<path class="t" style="stroke-width:1.2" d="M1085,828.8 L1090.5,830.8 L1092.5,837.6 L1087,836 Z"/>
<path class="t" style="stroke-width:1.2" d="M1093.5,834 L1100.5,836.5 L1102.8,843.6 L1095.5,841.4 Z"/>
<path class="t" style="stroke-width:1.2" d="M1103.5,841 C1110,840 1125,843 1130.7,846 C1131,850 1128,851 1120,849 C1112,847 1105,846 1103.5,841 Z"/>
<path class="t" style="stroke-width:1.2" d="M1074.6,819 C1078,810 1088,800 1101,789.3 C1107,785 1112,782 1115.8,781"/>
<path class="t" style="stroke-width:1.2" d="M1115.8,781 C1117,787 1125,793 1130.7,797.5 C1140,803 1152,808 1163.6,809.9"/>
<path class="t" style="stroke-width:1.2" d="M1163.6,809.9 C1158,815 1150,820 1145.5,822.2 L1122.4,843.7"/>
<path class="t" style="stroke-width:1.2" d="M1106,838.7 L1160.3,812.3"/>
<path class="t" style="stroke-width:1.2" d="M1084.5,832 C1084,824 1086,817 1090,813 L1109,790 L1113,786"/>
<path class="t" style="stroke-width:1.2" d="M1116,767 C1119,765 1121.6,772 1120.5,776.9 C1117,776 1115,770 1116,767 Z"/>
<path class="t" style="stroke-width:1.2" d="M1134,861 C1134,848 1145,835 1155,834 C1163,834 1163,845 1160,853 C1156,862 1148,867 1140,866 C1136,866 1134,864 1134,861 Z"/>
<path class="t" style="stroke-width:1.2" d="M1162.8,848 L1170,845"/>
<circle cx="1108.4" cy="810.2" r="11.3" fill="#000"/>
<text x="1092.5" y="891.8" font-family="Liberation Sans, sans-serif" font-size="20" textLength="81.5" lengthAdjust="spacingAndGlyphs">00008677</text>
<rect x="1279" y="896" width="1" height="1" fill="#000"/>
</svg>
</body></html>
